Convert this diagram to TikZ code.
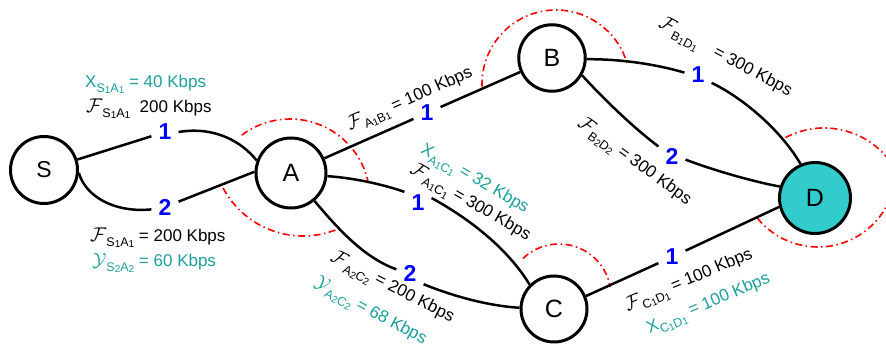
\documentclass[tikz,border=0pt]{standalone}
\usepackage{fontspec}
\setmainfont{Liberation Sans}
\definecolor{tealtxt}{RGB}{28,158,158}
\definecolor{dfill}{RGB}{51,204,204}
\newcommand\Fsc{\scalebox{1.15}{\ensuremath{\mathcal{F}}}}
\newcommand\Ysc{\scalebox{1.1}{\ensuremath{\mathcal{Y}}}}
\newcommand\dg[1]{\raisebox{-1pt}{\fontsize{10}{10}\selectfont #1}}
\newcommand\subx[1]{\raisebox{-5pt}{\fontsize{12.5}{12.5}\selectfont #1}}
\tikzset{
 nd/.style={circle, draw, line width=3pt, inner sep=0pt, font=\fontsize{25}{25}\selectfont},
 num/.style={text=blue, font=\bfseries\fontsize{23}{23}\selectfont, inner xsep=7pt, inner ysep=3pt},
 ed/.style={line width=2.5pt},
 rdd/.style={red, line width=1.6pt, dash pattern=on 7pt off 3.5pt on 1.5pt off 3.5pt},
 lbl/.style={font=\fontsize{17}{17}\selectfont, inner sep=0pt},
 tl/.style={lbl, text=tealtxt},
}
\begin{document}
\begin{tikzpicture}[x=1pt,y=1pt]
\useasboundingbox (0,0) rectangle (886,347);
% red dash-dot arcs
\begin{scope}
\clip (0,0) rectangle (886,347);
\draw[rdd] (290,148) ++(127:80) arc[start angle=127, end angle=12, radius=80];
\draw[rdd] (303,201.5) ++(208:90.5) arc[start angle=208, end angle=293, radius=90.5];
\draw[rdd] (556,263) ++(182:74) arc[start angle=182, end angle=17, radius=74];
\draw[rdd] (559,51) ++(134:52) arc[start angle=134, end angle=10, radius=52];
\draw[rdd] (824,137) ++(118:82) arc[start angle=118, end angle=28, radius=82];
\draw[rdd] (818,178) ++(219:78) arc[start angle=219, end angle=342, radius=78];
\end{scope}
% nodes
\node[nd, minimum size=67pt, font=\fontsize{23}{23}\selectfont] (S) at (44,177) {S};
\node[nd, minimum size=70pt] (A) at (291,174) {A};
\node[nd, minimum size=66.5pt] (B) at (552,289) {B};
\node[nd, minimum size=66pt] (C) at (554,38) {C};
\node[nd, minimum size=71pt, fill=dfill] (D) at (815,149) {D};
% number labels
\node[num] (n1) at (165,215) {1};
\node[num] (n2) at (165,140) {2};
\node[num] (nAB) at (427,234) {1};
\node[num] (nAC1) at (418,144) {1};
\node[num] (nAC2) at (410,74) {2};
\node[num] (nBD1) at (698,272) {1};
\node[num] (nBD2) at (672,191) {2};
\node[num] (nCD) at (672,90) {1};
% edges
\draw[ed] (S) -- (n1);
\draw[ed] (n1.east) .. controls (215,221) and (242,205) .. (A.160);
\draw[ed] (S.-5) .. controls (86,150) and (115,134) .. (n2.190);
\draw[ed] (n2) -- (A.178);
\draw[ed] (A) -- (nAB) -- (B);
\draw[ed] (A.-5) .. controls (355,169) and (385,162) .. (nAC1.north west);
\draw[ed] (nAC1.20) .. controls (470,128) and (508,98) .. (C.135);
\draw[ed] (A.-50) .. controls (335,122) and (362,90) .. (nAC2.165);
\draw[ed] (nAC2.south east) .. controls (455,50) and (490,41) .. (C.178);
\draw[ed] (B.-2) .. controls (620,288) and (655,283) .. (nBD1.170);
\draw[ed] (nBD1.-30) .. controls (745,248) and (782,215) .. (D.113);
\draw[ed] (B.-30) .. controls (600,252) and (630,222) .. (nBD2.145);
\draw[ed] (nBD2.-15) .. controls (710,178) and (750,166) .. (D.162);
\draw[ed] (C.22) -- (nCD) -- (D.194);
% text labels
\node[tl, anchor=base west] (t1) at (85,259) {X\subx{S\dg{1}A\dg{1}} = 40 Kbps};
\node[lbl, anchor=base west] (t2) at (86,234) {\Fsc\subx{S\dg{1}A\dg{1}}\ \ 200 Kbps};
\node[lbl, anchor=base west] (t3) at (90,105) {\Fsc\subx{S\dg{1}A\dg{1}} = 200 Kbps};
\node[tl, anchor=base west] (t4) at (92,80) {\Ysc\subx{S\dg{2}A\dg{2}} = 60 Kbps};
\node[lbl, rotate=24] (t5) at (410,247) {\Fsc\subx{A\dg{1}B\dg{1}} = 100 Kbps};
\node[lbl, rotate=-28] (t6) at (725,289) {\Fsc\subx{B\dg{1}D\dg{1}}\quad= 300 Kbps};
\node[lbl, rotate=-36] (t7) at (634,185) {\Fsc\subx{B\dg{2}D\dg{2}} = 300 Kbps};
\node[tl, rotate=-30] (t8) at (474,167) {X\subx{A\dg{1}C\dg{1}} = 32 Kbps};
\node[lbl, rotate=-30] (t9) at (470,144) {\Fsc\subx{A\dg{1}C\dg{1}} = 300 Kbps};
\node[lbl, rotate=-27] (t10) at (392,59) {\Fsc\subx{A\dg{2}C\dg{2}} = 200 Kbps};
\node[tl, rotate=-28] (t11) at (370,35) {\Ysc\subx{A\dg{2}C\dg{2}} = 68 Kbps};
\node[lbl, rotate=23] (t12) at (689,66) {\Fsc\subx{C\dg{1}D\dg{1}} = 100 Kbps};
\node[tl, rotate=23] (t13) at (709,42) {X\subx{C\dg{1}D\dg{1}} = 100 Kbps};
\end{tikzpicture}
\end{document}
